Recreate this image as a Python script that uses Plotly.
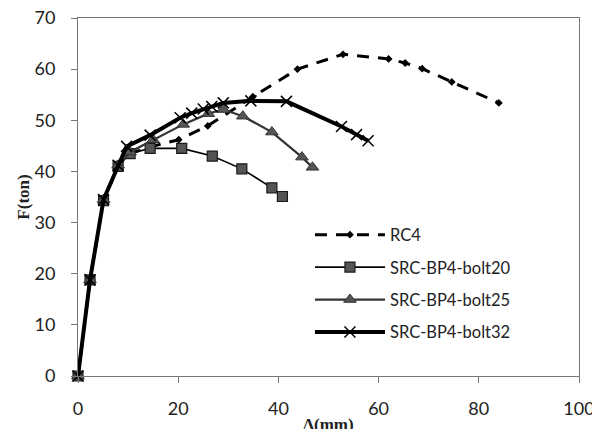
import plotly.graph_objects as go

rc4_x = [0, 2.4, 5.1, 8.0, 10.4, 14.4, 20.1, 25.9, 34.9, 43.8, 52.9, 62.0, 65.3, 68.7, 74.6, 84.0]
rc4_y = [0, 18.8, 34.3, 41.0, 43.5, 44.8, 46.2, 48.9, 54.6, 60.0, 62.9, 62.0, 61.2, 60.1, 57.5, 53.4]

b20_x = [0, 2.4, 5.1, 8.0, 10.4, 14.4, 20.7, 26.8, 32.7, 38.7, 40.8]
b20_y = [0, 18.8, 34.3, 41.0, 43.5, 44.5, 44.5, 43.0, 40.5, 36.8, 35.1]

b25_x = [0, 2.4, 5.1, 8.0, 10.4, 15.0, 21.0, 26.0, 29.0, 32.9, 38.7, 44.7, 46.8]
b25_y = [0, 18.8, 34.5, 41.2, 43.8, 46.2, 49.2, 51.3, 52.1, 50.8, 47.7, 42.8, 40.8]

b32_x = [0, 2.4, 5.1, 8.0, 9.7, 14.4, 20.4, 22.7, 25.0, 26.7, 29.0, 34.5, 41.6, 52.6, 55.6, 57.9]
b32_y = [0, 18.8, 34.5, 41.2, 44.9, 47.1, 50.5, 51.4, 52.2, 52.7, 53.4, 53.8, 53.7, 48.8, 47.2, 46.0]

names = ["RC4", "SRC-BP4-bolt20", "SRC-BP4-bolt25", "SRC-BP4-bolt32"]

fig = go.Figure()
fig.add_trace(go.Scatter(
    x=rc4_x, y=rc4_y, name=names[0], legendgroup="g0", mode="lines+markers",
    line=dict(color="black", width=3, dash="12px,9px"),
    marker=dict(symbol="diamond", size=6, color="black"),
    cliponaxis=False))
fig.add_trace(go.Scatter(
    x=b20_x, y=b20_y, name=names[1], legendgroup="g1", mode="lines+markers",
    line=dict(color="black", width=1.6),
    marker=dict(symbol="square", size=10, color="#555555",
                line=dict(color="#1a1a1a", width=1.2)),
    cliponaxis=False))
fig.add_trace(go.Scatter(
    x=b25_x, y=b25_y, name=names[2], legendgroup="g2", mode="lines+markers",
    line=dict(color="#333333", width=2.2),
    marker=dict(symbol="triangle-up", size=11, color="#555555",
                line=dict(color="#333333", width=1)),
    cliponaxis=False))
fig.add_trace(go.Scatter(
    x=b32_x, y=b32_y, name=names[3], legendgroup="g3", mode="lines+markers",
    line=dict(color="black", width=4),
    marker=dict(symbol="x-thin", size=11, color="black",
                line=dict(color="black", width=1.5)),
    cliponaxis=False))

axis_common = dict(
    showline=True, linecolor="#777777", linewidth=1, mirror=True,
    ticks="outside", ticklen=6, tickcolor="#777777", showgrid=False,
    zeroline=False, tickfont=dict(family="Lato", size=18, color="#222222"),
    automargin=False, ticklabeloverflow="allow",
)

fig.update_xaxes(range=[0, 100], dtick=20, ticklabelstandoff=10,
                 title=dict(text="<b>Δ(mm)</b>", standoff=0,
                            font=dict(family="Liberation Serif", size=17, color="#222222")),
                 **axis_common)
fig.update_yaxes(range=[0, 70], dtick=10, ticklabelstandoff=12,
                 title=dict(text="<b>F(ton)</b>", standoff=0,
                            font=dict(family="Liberation Serif", size=17, color="#222222")),
                 **axis_common)

# the page body offsets the figure by 8px; margins compensate
fig.update_layout(
    width=600, height=429,
    margin=dict(l=70, r=29, t=10, b=61),
    plot_bgcolor="white", paper_bgcolor="white",
    showlegend=True,
    legend=dict(x=0.463, y=0.443, xanchor="left", yanchor="top",
                bgcolor="rgba(0,0,0,0)",
                font=dict(family="Lato", size=16.5, color="#222222"),
                tracegroupgap=8, itemwidth=70),
)

fig.write_html("out.html")
